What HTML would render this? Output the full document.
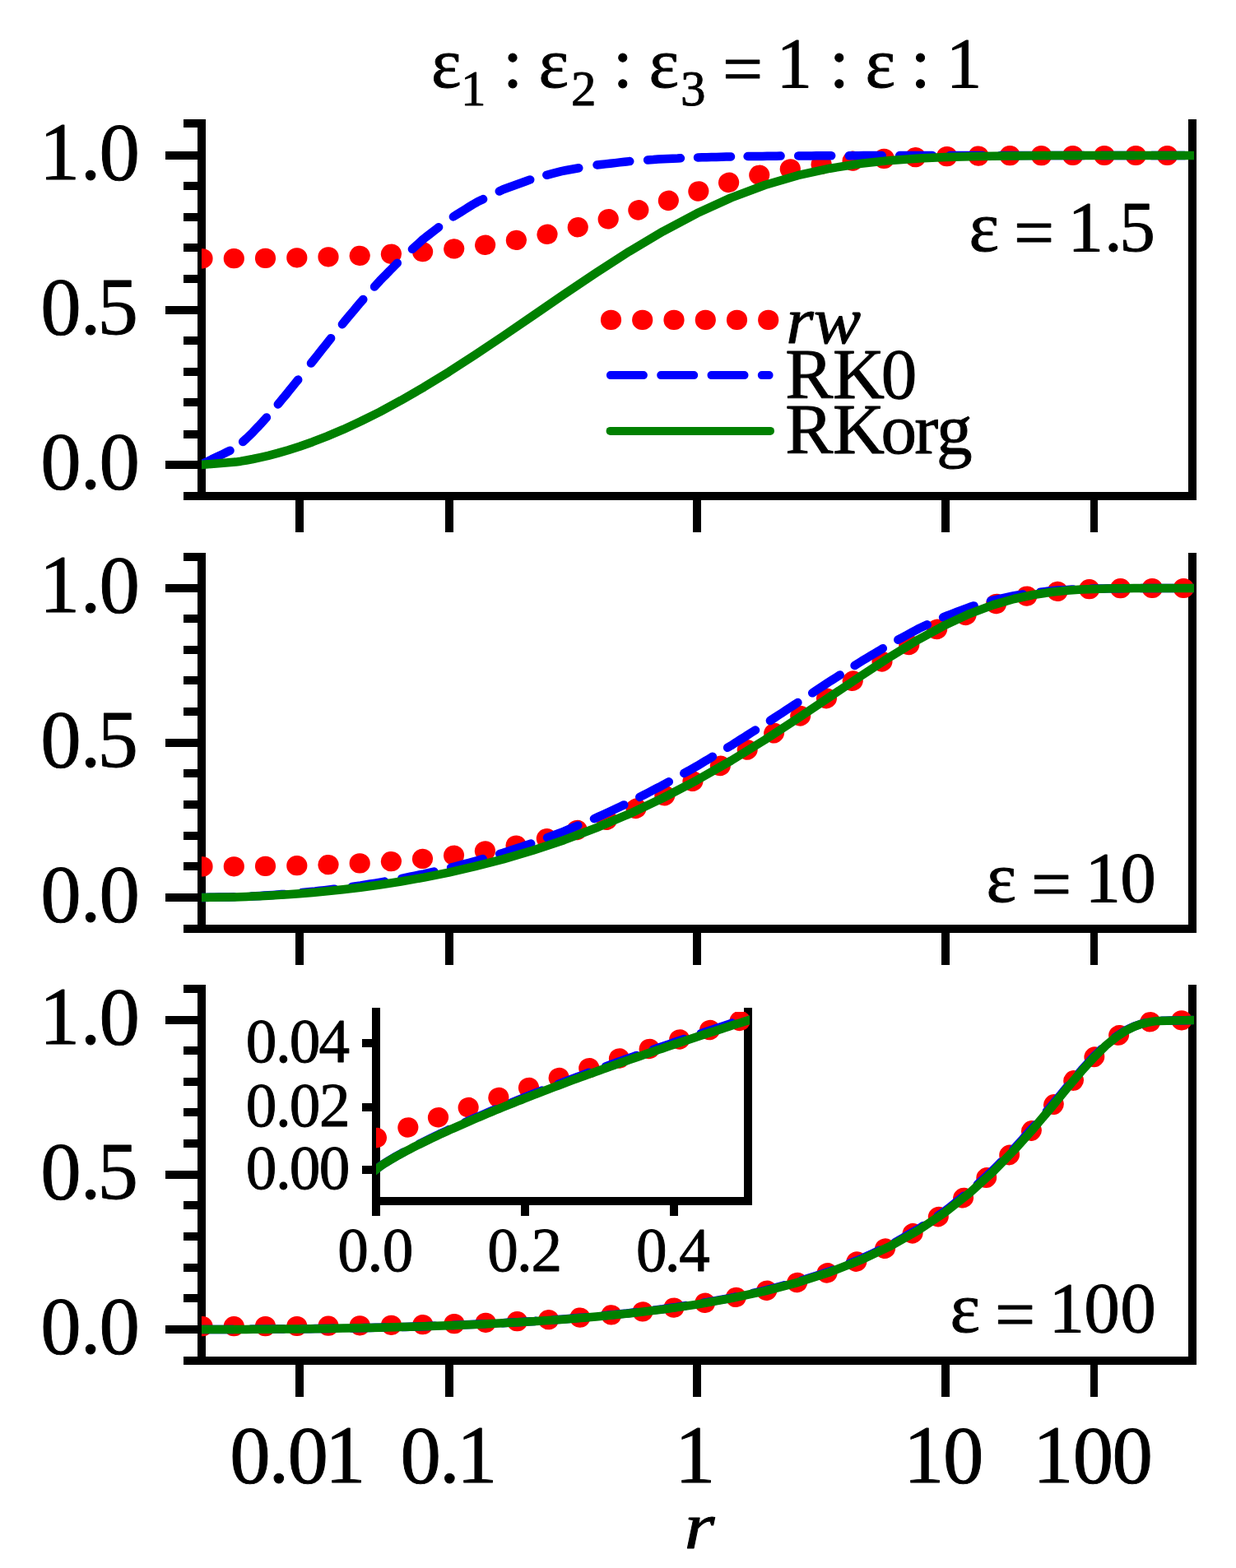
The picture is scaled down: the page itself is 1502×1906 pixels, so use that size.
<!DOCTYPE html>
<html lang="en">
<head>
<meta charset="utf-8">
<title>r w(r) versus r: rw, RK0, RKorg</title>
<style>
html,body{margin:0;padding:0;background:#fff;}
body{width:1502px;height:1906px;overflow:hidden;}
svg{display:block;}
</style>
</head>
<body>
<svg width="1502" height="1906" viewBox="0 0 1502 1906" font-family="'Liberation Serif', 'DejaVu Serif', serif" fill="#000">
<style>text{stroke:#000;stroke-width:0.9px;stroke-linejoin:round}</style>
<rect width="1502" height="1906" fill="#fff"/>
<defs>
<clipPath id="c0"><rect x="245" y="150" width="1206" height="453"/></clipPath>
<clipPath id="c1"><rect x="245" y="677" width="1206" height="452"/></clipPath>
<clipPath id="c2"><rect x="245" y="1202" width="1206" height="452"/></clipPath>
<clipPath id="ci"><rect x="457" y="1230" width="454" height="230"/></clipPath>
</defs>
<g id="panel1">
<g shape-rendering="crispEdges">
<rect x="240" y="145" width="10" height="463"/>
<rect x="1444" y="145" width="10" height="463"/>
<rect x="240" y="598" width="1214" height="10"/>
<rect x="223" y="145" width="22" height="10"/>
<rect x="201" y="184" width="44" height="10"/>
<rect x="223" y="221" width="22" height="10"/>
<rect x="223" y="259" width="22" height="10"/>
<rect x="223" y="296" width="22" height="10"/>
<rect x="223" y="334" width="22" height="10"/>
<rect x="201" y="372" width="44" height="10"/>
<rect x="223" y="409" width="22" height="10"/>
<rect x="223" y="447" width="22" height="10"/>
<rect x="223" y="484" width="22" height="10"/>
<rect x="223" y="523" width="22" height="10"/>
<rect x="201" y="560" width="44" height="10"/>
<rect x="223" y="598" width="22" height="10"/>
<rect x="359" y="603" width="10" height="44"/>
<rect x="541" y="603" width="10" height="44"/>
<rect x="842" y="603" width="10" height="44"/>
<rect x="1144" y="603" width="10" height="44"/>
<rect x="1325" y="603" width="9" height="44"/>
</g>
<text x="47.7 97.7 120.4" y="217.6" font-size="98.8">1.0</text>
<text x="49.2 97.7 118.4" y="405.6" font-size="98.8">0.5</text>
<text x="49.2 97.7 120.4" y="593.6" font-size="98.8">0.0</text>
<g clip-path="url(#c0)" fill="none" stroke-linecap="round" stroke-linejoin="round">
<path d="M245.5 314.3L246.5 314.3M283.8 314.2L284.8 314.2M322 313.9L323 313.9M360.3 313.3L361.3 313.3M398.5 312.3L399.5 312.3M436.7 310.9L437.7 310.8M474.9 308.8L475.9 308.7M513.1 306.1L514.1 306M551.2 302.5L552.2 302.4M589.1 297.9L590.1 297.7M626.9 292L627.9 291.9M664.5 284.9L665.5 284.7M701.8 276.3L702.7 276.1M738.7 266.4L739.7 266.1M775.4 255.5L776.3 255.2M811.9 244L812.8 243.7M848.4 232.6L849.3 232.3M885.1 222L886.1 221.7M922.3 212.9L923.2 212.7M959.8 205.5L960.8 205.3M997.6 199.8L998.6 199.7M1035.6 195.7L1036.6 195.6M1073.8 192.9L1074.8 192.9M1112 191.2L1113 191.1M1150.2 190.1L1151.2 190.1M1188.5 189.6L1189.5 189.5M1226.7 189.2L1227.7 189.2M1265 189.1L1266 189.1M1303.2 189L1304.2 189M1341.5 189L1342.5 189M1379.7 189L1380.7 189M1418 189L1419 189" stroke="#ff0000" stroke-width="24.2"/>
<path d="M243.3 565L248.7 562.4L254.1 559.9L259.5 557.3L264.9 554.7L270.3 552.2L275.7 549.6L279.5 547.8M295.1 537L299.5 533L303.4 529.2L307.3 525.4L310.8 521.7L314.4 518L318.1 513.9L322.1 509.5L323.9 507.5M337.8 491.5L340.9 487.7L344.5 483.3L348.2 479L351.7 474.6L355.2 470.2L358.8 465.8L362.2 461.6M378 441.6L381.6 437.1L385.1 432.7L388.6 428.2L392.1 423.8L395.6 419.4L399.1 415L402.1 411.2M415.9 394.2L418.6 390.9L422.1 386.7L425.7 382.4L429.3 378.2L432.8 373.9L436.4 369.6L440.2 365.3L441.3 364M455.1 348.6L457.8 345.6L461.7 341.2L465.6 337.2L469.6 333.2L473.5 329.1L477.5 325.1L481.4 321.1L482.8 319.7M500.9 302.8L504.5 299.6L508.7 295.8L513 291.9L517.5 288.2L522.1 284.7L526.7 281.1L531.3 277.6L533.1 276.2M550.9 263.4L555.1 260.8L560 257.7L565 254.6L569.9 251.5L574.8 248.5L579.9 245.6L585.2 243.1L587.1 242.1M606.8 232.5L611.5 230.2L617 228.2L622.6 226.2L628.1 224.2L633.7 222.2L639.2 220.2L644.2 218.4M664.3 212.8L670.7 211.2L676.5 209.7L682.3 208.2L688 207L693.6 206L699.2 205L703.3 204.3M725.5 200.5L730.1 200L735.9 199.4L741.6 198.7L747.4 198.1L753.1 197.4L758.9 196.8L764.6 196.1L765.3 196.1M787.1 194.5L793.9 194.1L799.8 193.6L805.6 193.2L811.5 193L817.4 192.7L823.4 192.5L827 192.3M848 191.4L852.9 191.3L858.8 191.2L864.7 191L870.6 190.9L876.6 190.7L882.5 190.6L888 190.4M908.6 190.1L914.7 190L920.6 189.9L926.5 189.9L932.3 189.8L938 189.7L943.8 189.7L948.6 189.6M970.2 189.5L975.2 189.4L980.8 189.4L986.4 189.4L992 189.3L997.6 189.3L1003.2 189.3L1008.7 189.3L1010.2 189.3M1031.8 189.2L1037.8 189.2L1043.6 189.2L1049.2 189.1L1054.8 189.1L1060.3 189.1L1065.9 189.1L1071.4 189.1L1071.8 189.1M1093.1 189.1L1099.6 189.1L1105.3 189.1L1111 189.1L1116.7 189L1122.5 189L1128.4 189L1133.1 189M1154.4 189L1159.7 189L1165.2 189L1170.7 189L1176.1 189L1181.6 189L1187.2 189L1192.8 189L1194.4 189M1215.7 189L1220.9 189L1226.6 189L1232.3 189L1238.2 189L1244.1 189L1249.9 189L1255.7 189M1277 189L1282.8 189L1288.3 189L1293.9 189L1299.6 189L1305.4 189L1311.2 189L1316.8 189L1317 189M1338.3 189L1344 189L1349.1 189L1354.1 189L1359.5 189L1365.1 189L1370.4 189L1375.4 189L1378.3 189M1399.6 189L1405.5 189L1410.5 189L1416.4 189L1422.3 189L1428.3 189L1434.2 189L1439.6 189" stroke="#0000ff" stroke-width="10.5"/>
<path d="M243.3 565L286.5 561.6L292.6 560.7L299.5 559.5L307.3 558L316.1 556.1L326.1 553.8L337.3 550.9L350 547.2L364.1 542.7L379.8 537.2L397.4 530.4L416.8 522.2L438.2 512.3L461.7 500.6L487.3 486.7L515.2 470.6L545.2 452.2L577.3 431.4L611.5 408.5L647.5 383.8L685.3 357.9L724.4 331.6L764.6 305.7L805.6 281.3L847 259.3L888.4 240.4L929.4 225L969.6 213.2L1008.7 204.7L1046.5 198.8L1082.5 194.9L1116.7 192.5L1148.8 191L1178.8 190.2L1206.7 189.7L1232.3 189.4L1255.8 189.2L1277.2 189.1L1296.6 189.1L1314.2 189L1329.9 189L1344 189L1356.7 189L1367.9 189L1377.9 189L1386.7 189L1394.5 189L1401.4 189L1407.5 189L1449 189" stroke="#008000" stroke-width="10.5" stroke-linecap="square"/>
</g>
</g>
<g id="panel2">
<g shape-rendering="crispEdges">
<rect x="240" y="672" width="10" height="462"/>
<rect x="1444" y="672" width="10" height="462"/>
<rect x="240" y="1124" width="1214" height="10"/>
<rect x="223" y="672" width="22" height="10"/>
<rect x="201" y="710" width="44" height="10"/>
<rect x="223" y="747" width="22" height="10"/>
<rect x="223" y="785" width="22" height="10"/>
<rect x="223" y="822" width="22" height="10"/>
<rect x="223" y="860" width="22" height="10"/>
<rect x="201" y="898" width="44" height="10"/>
<rect x="223" y="935" width="22" height="10"/>
<rect x="223" y="973" width="22" height="10"/>
<rect x="223" y="1011" width="22" height="10"/>
<rect x="223" y="1048" width="22" height="10"/>
<rect x="201" y="1086" width="44" height="10"/>
<rect x="223" y="1124" width="22" height="10"/>
<rect x="359" y="1129" width="10" height="44"/>
<rect x="541" y="1129" width="10" height="44"/>
<rect x="842" y="1129" width="10" height="44"/>
<rect x="1144" y="1129" width="10" height="44"/>
<rect x="1325" y="1129" width="9" height="44"/>
</g>
<text x="47.7 97.7 120.4" y="743.6" font-size="98.8">1.0</text>
<text x="49.2 97.7 118.4" y="931.6" font-size="98.8">0.5</text>
<text x="49.2 97.7 120.4" y="1119.6" font-size="98.8">0.0</text>
<g clip-path="url(#c1)" fill="none" stroke-linecap="round" stroke-linejoin="round">
<path d="M245.5 1053.4L246.5 1053.4M283.8 1053.3L284.8 1053.3M322 1052.9L323 1052.9M360.3 1052.2L361.3 1052.2M398.5 1051.1L399.5 1051M436.7 1049.4L437.7 1049.4M474.9 1047.1L475.9 1047M513 1044L514 1043.9M551.1 1039.8L552 1039.7M588.9 1034.5L589.9 1034.3M626.6 1027.7L627.5 1027.5M663.9 1019.3L664.8 1019.1M700.7 1009.1L701.7 1008.8M737 996.9L737.9 996.6M772.6 983L773.5 982.5M807.4 967.3L808.3 966.8M841.5 949.9L842.4 949.4M874.9 931.2L875.8 930.7M907.8 911.7L908.6 911.2M940.2 891.4L941 890.9M972.3 870.5L973.1 870M1004.1 849.3L1004.9 848.7M1035.8 828L1036.7 827.4M1071.6 804.5L1072.4 804M1104.3 784.2L1105.2 783.7M1138.2 765.1L1139.1 764.6M1173.6 748L1174.5 747.5M1210.1 734.2L1211.1 733.9M1247.3 724.7L1248.3 724.5M1284.6 719L1285.6 718.9M1323.2 716.2L1324.2 716.2M1361.1 715.2L1362.1 715.2M1399.7 715L1400.7 715M1437.8 715L1438.8 715" stroke="#ff0000" stroke-width="24.2"/>
<path d="M244.5 1091L249.1 1090.9L254.8 1090.8L260.6 1090.7L266.3 1090.6L272.1 1090.5L277.8 1090.4L283.6 1090.3L284.5 1090.3M305.8 1089.4L310.2 1089.2L316.1 1088.9L321.1 1088.6L326.1 1088.3L331.7 1087.9L337.3 1087.5L342.4 1087.1L345.7 1086.9M367 1085L372 1084.5L377.2 1084L382.8 1083.5L388.6 1082.8L394.4 1082.2L400.1 1081.5L405.7 1080.8L406.7 1080.7M427.8 1077.9L432.8 1077.1L438.2 1076.4L444.1 1075.5L449.9 1074.5L455.8 1073.6L461.7 1072.6L467.3 1071.6M488.3 1067.8L492.9 1066.9L498.5 1065.7L504 1064.6L509.6 1063.4L515.2 1062.3L520.6 1061L526.1 1059.8L527.4 1059.5M548.1 1054.6L553.2 1053.2L558.6 1051.8L563.9 1050.4L569.3 1049L574.6 1047.6L580.2 1046.1L585.9 1044.4L586.7 1044.1M607.2 1038.1L611.5 1036.8L617 1034.9L622.6 1033.1L628.1 1031.2L633.7 1029.4L639.2 1027.5L644.8 1025.7L645.2 1025.5M665.1 1018.2L669.1 1016.7L674.5 1014.6L679.9 1012.6L685.3 1010.6L690.5 1008.4L695.7 1006.2L700.9 1004L702.3 1003.4M722 995.2L727.1 992.9L732.4 990.4L737.8 987.9L743.2 985.4L748.5 982.9L753.9 980.4L758.3 978.4M777.3 968.9L782.6 966.2L787.7 963.6L792.8 960.9L797.9 958.3L803.1 955.7L808.2 952.9L812.8 950.3M831.3 939.9L836.7 937L841.8 934.1L847 931.2L851.9 928.2L856.7 925.3L861.6 922.4L865.9 919.8M884.1 908.8L888.4 906.3L893.2 903.2L898 900.1L902.9 897.1L907.7 894L912.5 890.9L917.3 887.9L918 887.5M935.9 876L941.2 872.5L945.9 869.4L950.7 866.3L955.4 863.2L960.1 860.1L964.9 857L969.4 854M987.2 842.3L991.6 839.4L996.5 836.2L1001.4 833L1006.3 829.7L1011.3 826.5L1016.3 823.3L1020.7 820.5M1038.6 809L1044 805.6L1048.9 802.6L1053.7 799.7L1058.5 796.8L1063.3 793.9L1068.1 791.1L1072.8 788.2M1091.3 777.7L1095.7 775.3L1100.9 772.5L1106.2 769.7L1111.4 766.8L1116.7 764L1122 761.5L1126.8 759.3M1146.1 750.4L1151.6 748.1L1157 746.1L1162.5 744L1167.9 742L1173.4 739.9L1178.8 737.8L1183.6 736.4M1204 730.4L1209.5 729.1L1215.2 727.8L1220.9 726.6L1226.6 725.3L1232.3 724.1L1238.2 723.2L1243.2 722.4M1264.3 719.6L1269.2 719.1L1274.5 718.5L1280 718L1285.5 717.6L1291.1 717.3L1296.6 716.9L1302.5 716.6L1304.2 716.5M1325.5 715.7L1329.9 715.6L1335.6 715.5L1341.2 715.4L1346.6 715.3L1351.6 715.3L1356.7 715.2L1362.3 715.2L1365.5 715.1M1386.8 715L1391.9 715L1396.8 715L1401.4 715L1405.5 715L1410.5 715L1416.4 715L1422.3 715L1426.8 715M1448.1 715L1449 715" stroke="#0000ff" stroke-width="10.5"/>
<path d="M243.3 1091L286.5 1090.4L292.6 1090.2L299.5 1089.9L307.3 1089.6L316.1 1089.2L326.1 1088.7L337.3 1088.1L350 1087.3L364.1 1086.2L379.8 1084.9L397.4 1083.3L416.8 1081.2L438.2 1078.7L461.7 1075.5L487.3 1071.5L515.2 1066.6L545.2 1060.6L577.3 1053.2L611.5 1044.4L647.5 1033.8L685.3 1021.2L724.4 1006.4L764.6 989.4L805.6 970L847 948.3L888.4 924.6L929.4 899.4L969.6 873.2L1008.7 846.9L1046.5 821.5L1082.5 797.9L1116.7 777.1L1148.8 759.7L1178.8 745.8L1206.7 735.4L1232.3 728L1255.8 723L1277.2 719.8L1296.6 717.8L1314.2 716.6L1329.9 715.9L1344 715.5L1356.7 715.3L1367.9 715.2L1377.9 715.1L1386.7 715.1L1394.5 715L1401.4 715L1407.5 715L1449 715" stroke="#008000" stroke-width="10.5" stroke-linecap="square"/>
</g>
</g>
<g id="panel3">
<g shape-rendering="crispEdges">
<rect x="240" y="1197" width="10" height="462"/>
<rect x="1444" y="1197" width="10" height="462"/>
<rect x="240" y="1649" width="1214" height="10"/>
<rect x="223" y="1197" width="22" height="10"/>
<rect x="201" y="1235" width="44" height="10"/>
<rect x="223" y="1272" width="22" height="10"/>
<rect x="223" y="1310" width="22" height="10"/>
<rect x="223" y="1347" width="22" height="10"/>
<rect x="223" y="1385" width="22" height="10"/>
<rect x="201" y="1423" width="44" height="10"/>
<rect x="223" y="1460" width="22" height="10"/>
<rect x="223" y="1498" width="22" height="10"/>
<rect x="223" y="1536" width="22" height="10"/>
<rect x="223" y="1573" width="22" height="10"/>
<rect x="201" y="1611" width="44" height="10"/>
<rect x="223" y="1649" width="22" height="10"/>
<rect x="359" y="1654" width="10" height="44"/>
<rect x="541" y="1654" width="10" height="44"/>
<rect x="842" y="1654" width="10" height="44"/>
<rect x="1144" y="1654" width="10" height="44"/>
<rect x="1325" y="1654" width="9" height="44"/>
</g>
<text x="47.7 97.7 120.4" y="1268.6" font-size="98.8">1.0</text>
<text x="49.2 97.7 118.4" y="1456.6" font-size="98.8">0.5</text>
<text x="49.2 97.7 120.4" y="1644.6" font-size="98.8">0.0</text>
<g clip-path="url(#c2)" fill="none" stroke-linecap="round" stroke-linejoin="round">
<path d="M245.5 1612.2L246.5 1612.2M283.8 1612.2L284.8 1612.2M322 1612.1L323 1612.1M360.3 1612L361.3 1612M398.5 1611.7L399.5 1611.7M436.8 1611.3L437.8 1611.3M475 1610.8L476 1610.8M513.3 1610.1L514.3 1610M551.5 1609.1L552.5 1609.1M589.7 1607.8L590.7 1607.8M628 1606.2L629 1606.2M666.2 1604.2L667.2 1604.1M704.3 1601.6L705.3 1601.5M742.4 1598.4L743.4 1598.3M780.5 1594.5L781.5 1594.3M818.4 1589.7L819.4 1589.5M856.2 1583.9L857.2 1583.7M893.9 1577L894.8 1576.8M931.2 1568.9L932.2 1568.6M968.2 1559.1L969.2 1558.9M1004.6 1547.5L1005.6 1547.2M1040.4 1533.8L1041.3 1533.4M1075.1 1517.9L1076 1517.4M1108.7 1499.5L1109.5 1499M1139.9 1479.3L1140.7 1478.8M1170.2 1456.4L1171 1455.8M1198.4 1431.9L1199.1 1431.2M1226.3 1404.3L1227 1403.6M1253.1 1374.9L1253.8 1374.1M1280.1 1343L1280.7 1342.2M1304.3 1313.8L1304.9 1313.1M1329.5 1285.1L1330.2 1284.4M1359.2 1258.7L1360 1258.1M1397.2 1242.3L1398.2 1242.2M1435.4 1240.3L1436.4 1240.3" stroke="#ff0000" stroke-width="24.2"/>
<path d="M243.3 1616L249.1 1616L254.8 1616L260.6 1616L266.3 1616L272.1 1615.9L277.8 1615.9L283.3 1615.9M304.6 1615.8L310.2 1615.8L316.1 1615.8L321.1 1615.7L326.1 1615.7L331.7 1615.6L337.3 1615.6L342.4 1615.6L344.6 1615.5M365.9 1615.3L372 1615.2L377.2 1615.2L382.8 1615.1L388.6 1615L394.4 1614.9L400.1 1614.9L405.7 1614.8L405.9 1614.8M427.2 1614.4L432.8 1614.3L438.2 1614.2L444.1 1614.1L449.9 1613.9L455.8 1613.8L461.7 1613.7L467.2 1613.5M488.5 1613L492.9 1612.9L498.5 1612.7L504 1612.5L509.6 1612.4L515.2 1612.2L520.6 1612L526.1 1611.8L528.5 1611.7M549.8 1611L553.9 1610.8L559.8 1610.6L565.6 1610.3L571.5 1610.1L577.3 1609.8L583 1609.6L588.7 1609.3L589.7 1609.2M611 1608.2L617 1607.8L622.6 1607.5L628.1 1607.2L633.7 1606.9L639.2 1606.6L644.8 1606.2L650.4 1605.9L651 1605.8M672.2 1604.4L676.5 1604.1L682.3 1603.7L688 1603.2L693.6 1602.8L699.2 1602.3L704.8 1601.8L710.4 1601.4L712.1 1601.2M733.3 1599.3L738.8 1598.8L744.5 1598.2L750.2 1597.6L756 1597L761.7 1596.5L767.5 1595.8L773.1 1595.1M794.2 1592.6L799.8 1591.9L805.6 1591.2L811.5 1590.3L817.4 1589.5L823.4 1588.6L829.3 1587.7L833.8 1587M854.9 1583.7L860.8 1582.6L866.3 1581.6L871.8 1580.6L877.3 1579.6L882.9 1578.7L888.4 1577.7L894.2 1576.4M915 1571.8L920.6 1570.6L926.5 1569.3L932.3 1567.9L938 1566.4L943.8 1564.9L949.5 1563.3L953.8 1562.2M974.3 1556.4L980.8 1554.3L986.4 1552.5L992 1550.7L997.6 1548.9L1003.2 1547L1008.7 1545.2L1012.3 1543.8M1032.1 1536L1038.4 1533.5L1043.8 1531.4L1049 1529.1L1054.2 1526.6L1059.3 1524.2L1064.5 1521.7L1068.6 1519.8M1087.6 1510.2L1092.3 1507.5L1097.2 1504.7L1102 1501.9L1106.9 1499.1L1111.8 1496.3L1116.7 1493.5L1121.6 1490.2L1122.1 1489.9M1139.7 1477.9L1143.9 1475.1L1148.8 1471.7L1153.4 1468.1L1158.1 1464.4L1162.7 1460.7L1167.3 1457.1L1171.5 1453.7M1187.7 1439.9L1191.7 1436.2L1196 1432.3L1200.2 1428.4L1204.5 1424.5L1208.6 1420.5L1212.6 1416.5L1216.5 1412.5L1216.7 1412.3M1231.5 1397.1L1234.3 1394.1L1238.2 1389.8L1242.1 1385.4L1246 1381L1249.9 1376.6L1253.8 1372.2L1257.6 1368L1258.2 1367.3M1271.9 1351L1275.4 1346.9L1279 1342.6L1282.5 1338.4L1286 1334.1L1289.6 1329.9L1293.1 1325.6L1296.6 1321.4L1297.6 1320.3M1311.4 1304.1L1314.2 1300.8L1318.1 1296.5L1322 1292.2L1326 1287.9L1329.9 1283.6L1334 1279.7L1338 1275.8L1338.8 1275M1355 1261.1L1358.9 1258.3L1363.4 1255.4L1367.9 1252.5L1372.9 1250.1L1377.9 1247.7L1382.3 1246.1L1386.7 1244.6L1390.6 1243.6M1411.7 1240.8L1416.4 1240.7L1422.3 1240.6L1428.3 1240.4L1434.2 1240.3L1440.1 1240.2L1446 1240.1L1449 1240" stroke="#0000ff" stroke-width="10.5"/>
<path d="M243.3 1616L286.5 1615.9L292.6 1615.9L299.5 1615.9L307.3 1615.8L316.1 1615.8L326.1 1615.7L337.3 1615.6L350 1615.5L364.1 1615.4L379.8 1615.2L397.4 1614.9L416.8 1614.6L438.2 1614.2L461.7 1613.7L487.3 1613.1L515.2 1612.3L545.2 1611.2L577.3 1609.9L611.5 1608.3L647.5 1606.2L685.3 1603.7L724.4 1600.5L764.6 1596.5L805.6 1591.6L847 1585.6L888.4 1578.2L929.4 1569.4L969.6 1558.8L1008.7 1546.2L1046.5 1531.4L1082.5 1514.4L1116.7 1495L1148.8 1473.3L1178.8 1449.6L1206.7 1424.4L1232.3 1398.2L1255.8 1371.9L1277.2 1346.5L1296.6 1322.9L1314.2 1302.1L1329.9 1284.7L1344 1270.8L1356.7 1260.4L1367.9 1253L1377.9 1248L1386.7 1244.8L1394.5 1242.8L1401.4 1241.6L1407.5 1240.9L1449 1240" stroke="#008000" stroke-width="10.5" stroke-linecap="square"/>
</g>
</g>
<text x="279.3 326.5 349.5 395.1" y="1801.5" font-size="98.8">0.01</text>
<text x="486.4 533.9 554.9" y="1801.5" font-size="98.8">0.1</text>
<text x="820" y="1801.5" font-size="98.8">1</text>
<text x="1098 1146.1" y="1801.5" font-size="98.8">10</text>
<text x="1255 1303.8 1351.5" y="1801.5" font-size="98.8">100</text>
<text transform="translate(835.4,1882) scale(1.173,1)" x="-3.3" y="0" font-size="81" font-style="italic">r</text>
<text font-size="87.2"><tspan x="523.9" y="105.8">ε</tspan><tspan x="560" y="128.3" font-size="61">1</tspan> <tspan x="611" y="105.8">:</tspan> <tspan x="654.5" y="105.8">ε</tspan><tspan x="694.1" y="128.3" font-size="61">2</tspan> <tspan x="744.8" y="105.8">:</tspan> <tspan x="788.4" y="105.8">ε</tspan><tspan x="827" y="128.3" font-size="61">3</tspan> <tspan x="877.9" y="113.3">=</tspan> <tspan x="943.6" y="105.8">1</tspan> <tspan x="1007.7" y="105.8">:</tspan> <tspan x="1051.5" y="105.8">ε</tspan> <tspan x="1106.6" y="105.8">:</tspan> <tspan x="1149.8" y="105.8">1</tspan></text>
<text font-size="87.2"><tspan x="1177.4" y="304.8">ε</tspan> <tspan x="1231.9" y="312.3">=</tspan> <tspan x="1297.5 1342.1 1360.2" y="304.8">1.5</tspan></text>
<text font-size="87.2"><tspan x="1198.5" y="1096.2">ε</tspan> <tspan x="1253" y="1103.7">=</tspan> <tspan x="1318.6 1361.2" y="1096.2">10</tspan></text>
<text font-size="87.2"><tspan x="1154.5" y="1619.2">ε</tspan> <tspan x="1209" y="1626.7">=</tspan> <tspan x="1274.6 1317.2 1361.2" y="1619.2">100</tspan></text>
<g fill="none" stroke-linecap="round">
<path d="M742 388.9L743 388.9M780.2 388.9L781.2 388.9M818.5 388.9L819.5 388.9M856.8 388.9L857.8 388.9M895 388.9L896 388.9M933.2 388.9L934.2 388.9" stroke="#ff0000" stroke-width="24.2"/>
<path d="M741.9 456.1L781.9 456.1M803.2 456.1L843.2 456.1M864.5 456.1L904.5 456.1M925.8 456.1L934.6 456.1" stroke="#0000ff" stroke-width="10"/>
<path d="M741.6 523.9H936" stroke="#008000" stroke-width="10"/>
</g>
<text transform="translate(958.7,417.2) scale(1.062,1)" x="-3.3" y="0" font-size="81" font-style="italic">rw</text>
<text x="954.3 1011.9 1070.7" y="483.8" font-size="87.2">RK0</text>
<text x="954.3 1011.9 1070.4 1111.3 1138.1" y="551.3" font-size="87.2">RKorg</text>
<g id="inset">
<g shape-rendering="crispEdges">
<rect x="452" y="1225" width="10" height="240"/>
<rect x="904" y="1225" width="10" height="240"/>
<rect x="452" y="1455" width="462" height="10"/>
<rect x="440" y="1263" width="17" height="10"/>
<rect x="440" y="1341" width="17" height="10"/>
<rect x="440" y="1417" width="17" height="10"/>
<rect x="452" y="1460" width="10" height="18"/>
<rect x="633" y="1460" width="10" height="18"/>
<rect x="814" y="1460" width="10" height="18"/>
</g>
<text x="298.7 335.1 351.7 387.6" y="1290.5" font-size="75.2">0.04</text>
<text x="298.7 335.1 351.7 388.1" y="1368.5" font-size="75.2">0.02</text>
<text x="298.7 335.1 351.7 387.7" y="1444.5" font-size="75.2">0.00</text>
<text x="410.3 446.6 464.7" y="1544.5" font-size="75.2">0.0</text>
<text x="592.3 627.9 645.6" y="1544.5" font-size="75.2">0.2</text>
<text x="773.1 807.8 825.2" y="1544.5" font-size="75.2">0.4</text>
<g clip-path="url(#ci)" fill="none" stroke-linecap="round" stroke-linejoin="round">
<path d="M457 1383.3L457.9 1383M495.4 1370.6L496.3 1370.3M532 1358.4L533 1358.1M568.7 1346.3L569.6 1346M605.4 1334.2L606.3 1333.9M642 1322.2L643 1321.9M678.7 1310.2L679.6 1309.9M715.3 1298.4L716.3 1298.1M752 1286.7L753 1286.4M788.7 1275.1L789.6 1274.8M825.3 1263.6L826.3 1263.3M862 1252.2L862.9 1251.9M898.6 1241L899.6 1240.7" stroke="#ff0000" stroke-width="24.2"/>
<path d="M457 1421.7L461.5 1418L466 1414.9L470.6 1412L475.1 1409.3L479.6 1406.6L484.1 1404L488.6 1401.5L490.8 1400.4M509.6 1390.5L515.8 1387.4L520.3 1385.2L524.8 1382.9L529.3 1380.8L533.8 1378.6L538.4 1376.5L542.9 1374.4L545.7 1373.1M565.1 1364.3L570 1362.1L574.5 1360.1L579 1358.2L583.6 1356.2L588.1 1354.3L592.6 1352.3L597.1 1350.4L601.6 1348.5L601.8 1348.5M621.5 1340.3L628.8 1337.4L633.3 1335.5L637.8 1333.7L642.3 1331.9L646.8 1330.1L651.4 1328.3L655.9 1326.6L658.6 1325.5M678.5 1317.8L683 1316.1L687.5 1314.4L692 1312.7L696.6 1310.9L701.1 1309.3L705.6 1307.6L710.1 1305.9L714.6 1304.2L715.9 1303.7M735.9 1296.4L741.8 1294.3L746.3 1292.7L750.8 1291L755.3 1289.4L759.8 1287.8L764.4 1286.2L768.9 1284.6L773.4 1283L773.6 1282.9M793.7 1275.9L800.5 1273.5L805 1272L809.6 1270.4L814.1 1268.9L818.6 1267.3L823.1 1265.8L827.6 1264.3L831.5 1262.9M851.7 1256.2L859.3 1253.7L863.8 1252.2L868.3 1250.7L872.8 1249.2L877.4 1247.7L881.9 1246.2L886.4 1244.7L889.7 1243.6" stroke="#0000ff" stroke-width="10.5"/>
<path d="M457 1421.7L461.5 1418.1L466 1415L470.6 1412.2L475.1 1409.5L479.6 1406.9L484.1 1404.3L488.6 1401.9L493.2 1399.4L497.7 1397.1L502.2 1394.7L506.7 1392.4L511.2 1390.2L515.8 1388L520.3 1385.8L524.8 1383.6L529.3 1381.5L533.8 1379.3L538.4 1377.2L542.9 1375.2L547.4 1373.1L551.9 1371.1L556.4 1369.1L561 1367.1L565.5 1365.1L570 1363.1L574.5 1361.2L579 1359.2L583.6 1357.3L588.1 1355.4L592.6 1353.5L597.1 1351.6L601.6 1349.7L606.2 1347.9L610.7 1346L615.2 1344.2L619.7 1342.4L624.2 1340.6L628.8 1338.7L633.3 1337L637.8 1335.2L642.3 1333.4L646.8 1331.6L651.4 1329.9L655.9 1328.1L660.4 1326.4L664.9 1324.6L669.4 1322.9L674 1321.2L678.5 1319.5L683 1317.8L687.5 1316.1L692 1314.4L696.6 1312.7L701.1 1311.1L705.6 1309.4L710.1 1307.8L714.6 1306.1L719.2 1304.5L723.7 1302.8L728.2 1301.2L732.7 1299.6L737.2 1298L741.8 1296.3L746.3 1294.7L750.8 1293.1L755.3 1291.5L759.8 1290L764.4 1288.4L768.9 1286.8L773.4 1285.2L777.9 1283.7L782.4 1282.1L787 1280.5L791.5 1279L796 1277.5L800.5 1275.9L805 1274.4L809.6 1272.8L814.1 1271.3L818.6 1269.8L823.1 1268.3L827.6 1266.8L832.2 1265.3L836.7 1263.8L841.2 1262.3L845.7 1260.8L850.2 1259.3L854.8 1257.8L859.3 1256.3L863.8 1254.8L868.3 1253.4L872.8 1251.9L877.4 1250.4L881.9 1249L886.4 1247.5L890.9 1246.1L895.4 1244.6L900 1243.2L904.5 1241.7L909 1240.3" stroke="#008000" stroke-width="10.5" stroke-linecap="square"/>
</g>
</g>
</svg>
</body>
</html>
